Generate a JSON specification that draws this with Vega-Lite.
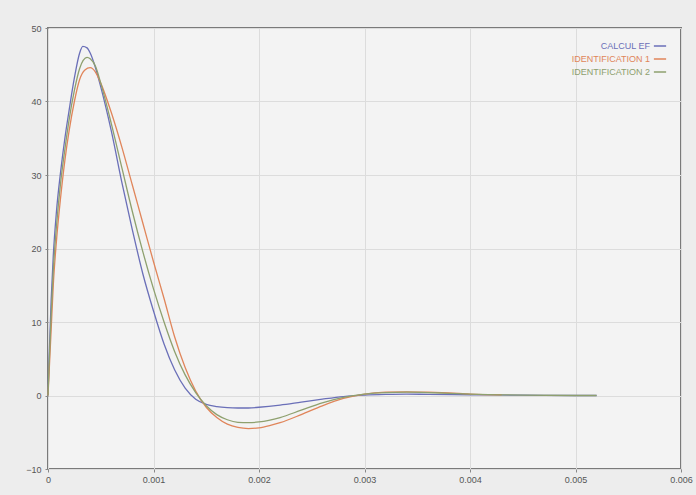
{
  "$schema": "https://vega.github.io/schema/vega-lite/v6.json",
  "autosize": "none",
  "width": 633,
  "height": 441,
  "padding": {"left": 48, "top": 28, "right": 15, "bottom": 26},
  "background": "#ededed",
  "config": {
    "view": {"fill": "#f3f3f3", "stroke": "#7a7a7a", "strokeWidth": 2},
    "font": "Liberation Sans",
    "axis": {"labelFont": "Liberation Sans", "labelFontSize": 9, "labelColor": "#555555", "gridColor": "#dcdcdc", "gridWidth": 1, "domain": false, "tickColor": "#888888", "tickSize": 3, "tickOffset": 0, "title": null}
  },
  "data": {"values": [
    {"t": 0, "v": 0, "s": "CALCUL EF"},
    {"t": 0.00001, "v": 5, "s": "CALCUL EF"},
    {"t": 0.00003, "v": 13, "s": "CALCUL EF"},
    {"t": 0.00005, "v": 19, "s": "CALCUL EF"},
    {"t": 0.00008, "v": 25, "s": "CALCUL EF"},
    {"t": 0.00012, "v": 30.5, "s": "CALCUL EF"},
    {"t": 0.00016, "v": 35, "s": "CALCUL EF"},
    {"t": 0.0002, "v": 38.8, "s": "CALCUL EF"},
    {"t": 0.00025, "v": 43.2, "s": "CALCUL EF"},
    {"t": 0.0003, "v": 46.6, "s": "CALCUL EF"},
    {"t": 0.00033, "v": 47.5, "s": "CALCUL EF"},
    {"t": 0.00037, "v": 47.3, "s": "CALCUL EF"},
    {"t": 0.0004, "v": 46.6, "s": "CALCUL EF"},
    {"t": 0.00045, "v": 44.6, "s": "CALCUL EF"},
    {"t": 0.0005, "v": 42, "s": "CALCUL EF"},
    {"t": 0.0006, "v": 36, "s": "CALCUL EF"},
    {"t": 0.0007, "v": 29, "s": "CALCUL EF"},
    {"t": 0.0008, "v": 22.5, "s": "CALCUL EF"},
    {"t": 0.0009, "v": 16.5, "s": "CALCUL EF"},
    {"t": 0.001, "v": 11.5, "s": "CALCUL EF"},
    {"t": 0.0011, "v": 7, "s": "CALCUL EF"},
    {"t": 0.0012, "v": 3.5, "s": "CALCUL EF"},
    {"t": 0.0013, "v": 1, "s": "CALCUL EF"},
    {"t": 0.0014, "v": -0.5, "s": "CALCUL EF"},
    {"t": 0.0015, "v": -1.2, "s": "CALCUL EF"},
    {"t": 0.0016, "v": -1.5, "s": "CALCUL EF"},
    {"t": 0.0017, "v": -1.65, "s": "CALCUL EF"},
    {"t": 0.0018, "v": -1.7, "s": "CALCUL EF"},
    {"t": 0.0019, "v": -1.7, "s": "CALCUL EF"},
    {"t": 0.002, "v": -1.6, "s": "CALCUL EF"},
    {"t": 0.0022, "v": -1.3, "s": "CALCUL EF"},
    {"t": 0.0024, "v": -0.9, "s": "CALCUL EF"},
    {"t": 0.0026, "v": -0.5, "s": "CALCUL EF"},
    {"t": 0.0028, "v": -0.15, "s": "CALCUL EF"},
    {"t": 0.003, "v": 0.05, "s": "CALCUL EF"},
    {"t": 0.0032, "v": 0.15, "s": "CALCUL EF"},
    {"t": 0.0034, "v": 0.2, "s": "CALCUL EF"},
    {"t": 0.0036, "v": 0.15, "s": "CALCUL EF"},
    {"t": 0.004, "v": 0.1, "s": "CALCUL EF"},
    {"t": 0.0045, "v": 0.05, "s": "CALCUL EF"},
    {"t": 0.005, "v": 0, "s": "CALCUL EF"},
    {"t": 0.0052, "v": 0, "s": "CALCUL EF"},

    {"t": 0, "v": 0, "s": "IDENTIFICATION 1"},
    {"t": 0.00001, "v": 3, "s": "IDENTIFICATION 1"},
    {"t": 0.00003, "v": 9, "s": "IDENTIFICATION 1"},
    {"t": 0.00005, "v": 15, "s": "IDENTIFICATION 1"},
    {"t": 0.00008, "v": 21, "s": "IDENTIFICATION 1"},
    {"t": 0.00012, "v": 27, "s": "IDENTIFICATION 1"},
    {"t": 0.00016, "v": 32, "s": "IDENTIFICATION 1"},
    {"t": 0.0002, "v": 36, "s": "IDENTIFICATION 1"},
    {"t": 0.00025, "v": 40, "s": "IDENTIFICATION 1"},
    {"t": 0.0003, "v": 43, "s": "IDENTIFICATION 1"},
    {"t": 0.00035, "v": 44.3, "s": "IDENTIFICATION 1"},
    {"t": 0.0004, "v": 44.6, "s": "IDENTIFICATION 1"},
    {"t": 0.00045, "v": 44, "s": "IDENTIFICATION 1"},
    {"t": 0.0005, "v": 42.5, "s": "IDENTIFICATION 1"},
    {"t": 0.0006, "v": 38.5, "s": "IDENTIFICATION 1"},
    {"t": 0.0007, "v": 33.8, "s": "IDENTIFICATION 1"},
    {"t": 0.0008, "v": 28.6, "s": "IDENTIFICATION 1"},
    {"t": 0.0009, "v": 23.4, "s": "IDENTIFICATION 1"},
    {"t": 0.001, "v": 18.2, "s": "IDENTIFICATION 1"},
    {"t": 0.0011, "v": 13.2, "s": "IDENTIFICATION 1"},
    {"t": 0.0012, "v": 8, "s": "IDENTIFICATION 1"},
    {"t": 0.0013, "v": 3.8, "s": "IDENTIFICATION 1"},
    {"t": 0.0014, "v": 0.6, "s": "IDENTIFICATION 1"},
    {"t": 0.0015, "v": -1.6, "s": "IDENTIFICATION 1"},
    {"t": 0.0016, "v": -3, "s": "IDENTIFICATION 1"},
    {"t": 0.0017, "v": -3.9, "s": "IDENTIFICATION 1"},
    {"t": 0.0018, "v": -4.35, "s": "IDENTIFICATION 1"},
    {"t": 0.0019, "v": -4.5, "s": "IDENTIFICATION 1"},
    {"t": 0.002, "v": -4.4, "s": "IDENTIFICATION 1"},
    {"t": 0.0021, "v": -4.1, "s": "IDENTIFICATION 1"},
    {"t": 0.0022, "v": -3.7, "s": "IDENTIFICATION 1"},
    {"t": 0.0024, "v": -2.6, "s": "IDENTIFICATION 1"},
    {"t": 0.0026, "v": -1.4, "s": "IDENTIFICATION 1"},
    {"t": 0.0028, "v": -0.4, "s": "IDENTIFICATION 1"},
    {"t": 0.003, "v": 0.2, "s": "IDENTIFICATION 1"},
    {"t": 0.0032, "v": 0.45, "s": "IDENTIFICATION 1"},
    {"t": 0.0034, "v": 0.5, "s": "IDENTIFICATION 1"},
    {"t": 0.0036, "v": 0.45, "s": "IDENTIFICATION 1"},
    {"t": 0.0038, "v": 0.35, "s": "IDENTIFICATION 1"},
    {"t": 0.004, "v": 0.2, "s": "IDENTIFICATION 1"},
    {"t": 0.0043, "v": 0.1, "s": "IDENTIFICATION 1"},

    {"t": 0, "v": 0, "s": "IDENTIFICATION 2"},
    {"t": 0.00001, "v": 4, "s": "IDENTIFICATION 2"},
    {"t": 0.00003, "v": 11, "s": "IDENTIFICATION 2"},
    {"t": 0.00005, "v": 17, "s": "IDENTIFICATION 2"},
    {"t": 0.00008, "v": 23, "s": "IDENTIFICATION 2"},
    {"t": 0.00012, "v": 29, "s": "IDENTIFICATION 2"},
    {"t": 0.00016, "v": 33.5, "s": "IDENTIFICATION 2"},
    {"t": 0.0002, "v": 37.5, "s": "IDENTIFICATION 2"},
    {"t": 0.00025, "v": 41.5, "s": "IDENTIFICATION 2"},
    {"t": 0.0003, "v": 44.5, "s": "IDENTIFICATION 2"},
    {"t": 0.00037, "v": 46, "s": "IDENTIFICATION 2"},
    {"t": 0.0004, "v": 45.8, "s": "IDENTIFICATION 2"},
    {"t": 0.00045, "v": 44.8, "s": "IDENTIFICATION 2"},
    {"t": 0.0005, "v": 42.5, "s": "IDENTIFICATION 2"},
    {"t": 0.0006, "v": 37, "s": "IDENTIFICATION 2"},
    {"t": 0.0007, "v": 31, "s": "IDENTIFICATION 2"},
    {"t": 0.0008, "v": 25, "s": "IDENTIFICATION 2"},
    {"t": 0.0009, "v": 19.5, "s": "IDENTIFICATION 2"},
    {"t": 0.001, "v": 14.5, "s": "IDENTIFICATION 2"},
    {"t": 0.0011, "v": 10, "s": "IDENTIFICATION 2"},
    {"t": 0.0012, "v": 6, "s": "IDENTIFICATION 2"},
    {"t": 0.0013, "v": 2.8, "s": "IDENTIFICATION 2"},
    {"t": 0.0014, "v": 0.4, "s": "IDENTIFICATION 2"},
    {"t": 0.0015, "v": -1.4, "s": "IDENTIFICATION 2"},
    {"t": 0.0016, "v": -2.6, "s": "IDENTIFICATION 2"},
    {"t": 0.0017, "v": -3.3, "s": "IDENTIFICATION 2"},
    {"t": 0.0018, "v": -3.65, "s": "IDENTIFICATION 2"},
    {"t": 0.0019, "v": -3.7, "s": "IDENTIFICATION 2"},
    {"t": 0.002, "v": -3.6, "s": "IDENTIFICATION 2"},
    {"t": 0.0022, "v": -3, "s": "IDENTIFICATION 2"},
    {"t": 0.0024, "v": -2, "s": "IDENTIFICATION 2"},
    {"t": 0.0026, "v": -1, "s": "IDENTIFICATION 2"},
    {"t": 0.0028, "v": -0.25, "s": "IDENTIFICATION 2"},
    {"t": 0.003, "v": 0.2, "s": "IDENTIFICATION 2"},
    {"t": 0.0032, "v": 0.4, "s": "IDENTIFICATION 2"},
    {"t": 0.0034, "v": 0.45, "s": "IDENTIFICATION 2"},
    {"t": 0.0036, "v": 0.4, "s": "IDENTIFICATION 2"},
    {"t": 0.0038, "v": 0.3, "s": "IDENTIFICATION 2"},
    {"t": 0.004, "v": 0.2, "s": "IDENTIFICATION 2"},
    {"t": 0.0045, "v": 0.05, "s": "IDENTIFICATION 2"},
    {"t": 0.005, "v": 0, "s": "IDENTIFICATION 2"},
    {"t": 0.0052, "v": 0, "s": "IDENTIFICATION 2"}
  ]},
  "mark": {"type": "line", "strokeWidth": 1.3, "interpolate": "monotone"},
  "encoding": {
    "x": {"field": "t", "type": "quantitative", "scale": {"domain": [0, 0.006], "nice": false}, "axis": {"values": [0, 0.001, 0.002, 0.003, 0.004, 0.005, 0.006], "format": "~g", "labelPadding": 3, "labelFlush": false}},
    "y": {"field": "v", "type": "quantitative", "scale": {"domain": [-10, 50], "nice": false, "zero": false}, "axis": {"values": [-10, 0, 10, 20, 30, 40, 50], "labelPadding": 4}},
    "color": {"field": "s", "type": "nominal", "scale": {"domain": ["CALCUL EF", "IDENTIFICATION 1", "IDENTIFICATION 2"], "range": ["#6a6fb8", "#e0855a", "#8ea06e"]},
      "legend": {"title": null, "orient": "top-right", "offset": 11, "symbolType": "stroke", "symbolSize": 150, "symbolStrokeWidth": 1.5, "labelFontSize": 9, "labelFont": "Liberation Sans", "rowPadding": 1, "labelAlign": "right", "labelOffset": -17,
        "encode": {"labels": {"update": {"fill": {"scale": "color", "field": "value"}}}}}}
  }
}
